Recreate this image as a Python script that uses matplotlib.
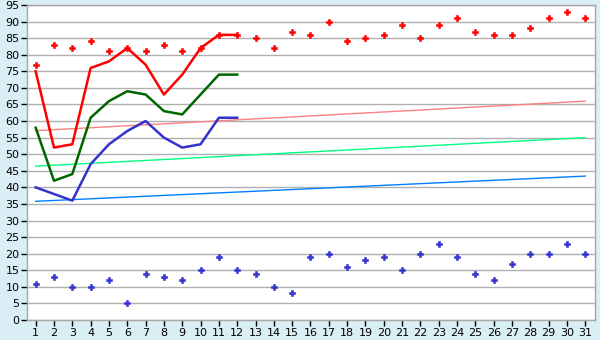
import matplotlib
matplotlib.use('Agg')
import matplotlib.pyplot as plt

# day of month
days = list(range(1, 32))

# daily maximum (red points) and minimum (blue points)
maxPoints = [77, 83, 82, 84, 81, 82, 81, 83, 81, 82, 86, 86, 85, 82, 87, 86,
             90, 84, 85, 86, 89, 85, 89, 91, 87, 86, 86, 88, 91, 93, 91]
minPoints = [11, 13, 10, 10, 12, 5, 14, 13, 12, 15, 19, 15, 14, 10, 8, 19,
             20, 16, 18, 19, 15, 20, 23, 19, 14, 12, 17, 20, 20, 23, 20]

# lines for the first twelve days
lineDays = list(range(1, 13))
redLine   = [75, 52, 53, 76, 78, 82, 77, 68, 74, 82, 86, 86]
greenLine = [58, 42, 44, 61, 66, 69, 68, 63, 62, 68, 74, 74]
blueLine  = [40, 38, 36, 47, 53, 57, 60, 55, 52, 53, 61, 61]

# trend lines (value at day 1 and day 31)
trendDays  = [1, 31]
redTrend   = [57.1, 66.0]
greenTrend = [46.4, 55.0]
blueTrend  = [35.8, 43.4]

bg = '#d9eef5'

fig = plt.figure(figsize=(6, 3.4), dpi=100)
fig.patch.set_facecolor(bg)
axes = fig.add_axes([26.5 / 600, 20 / 340, 568 / 600, 315 / 340])
axes.set_facecolor('white')

# grid
axes.set_axisbelow(True)
axes.yaxis.grid(True, color='#b0b0b0', linewidth=1.0)

# trend lines
axes.plot(trendDays, redTrend, color='#ff8080', linewidth=1.0)
axes.plot(trendDays, greenTrend, color='#00ff80', linewidth=1.0)
axes.plot(trendDays, blueTrend, color='#0080ff', linewidth=1.0)

# day lines
axes.plot(lineDays, redLine, color='#ff0000', linewidth=1.8)
axes.plot(lineDays, greenLine, color='#006600', linewidth=1.8)
axes.plot(lineDays, blueLine, color='#3333cc', linewidth=1.8)

# points
axes.plot(days, maxPoints, linestyle='none', marker='P', markersize=4.5,
          color='#ff0000', markeredgewidth=0.4)
axes.plot(days, minPoints, linestyle='none', marker='P', markersize=4.5,
          color='#3333cc', markeredgewidth=0.4)

axes.set_xlim(0.5, 31.5)
axes.set_ylim(0, 95)
axes.set_xticks(days)
axes.set_yticks(range(0, 96, 5))

for side in ['top', 'right', 'bottom', 'left']:
    axes.spines[side].set_color('#a6a6a6')
    axes.spines[side].set_linewidth(1.0)

axes.tick_params(axis='both', colors='black', labelsize=8, length=4,
                 width=1, direction='out', pad=2)
axes.tick_params(axis='y', pad=1)

fig.savefig('out.png', dpi=100, facecolor=bg)
